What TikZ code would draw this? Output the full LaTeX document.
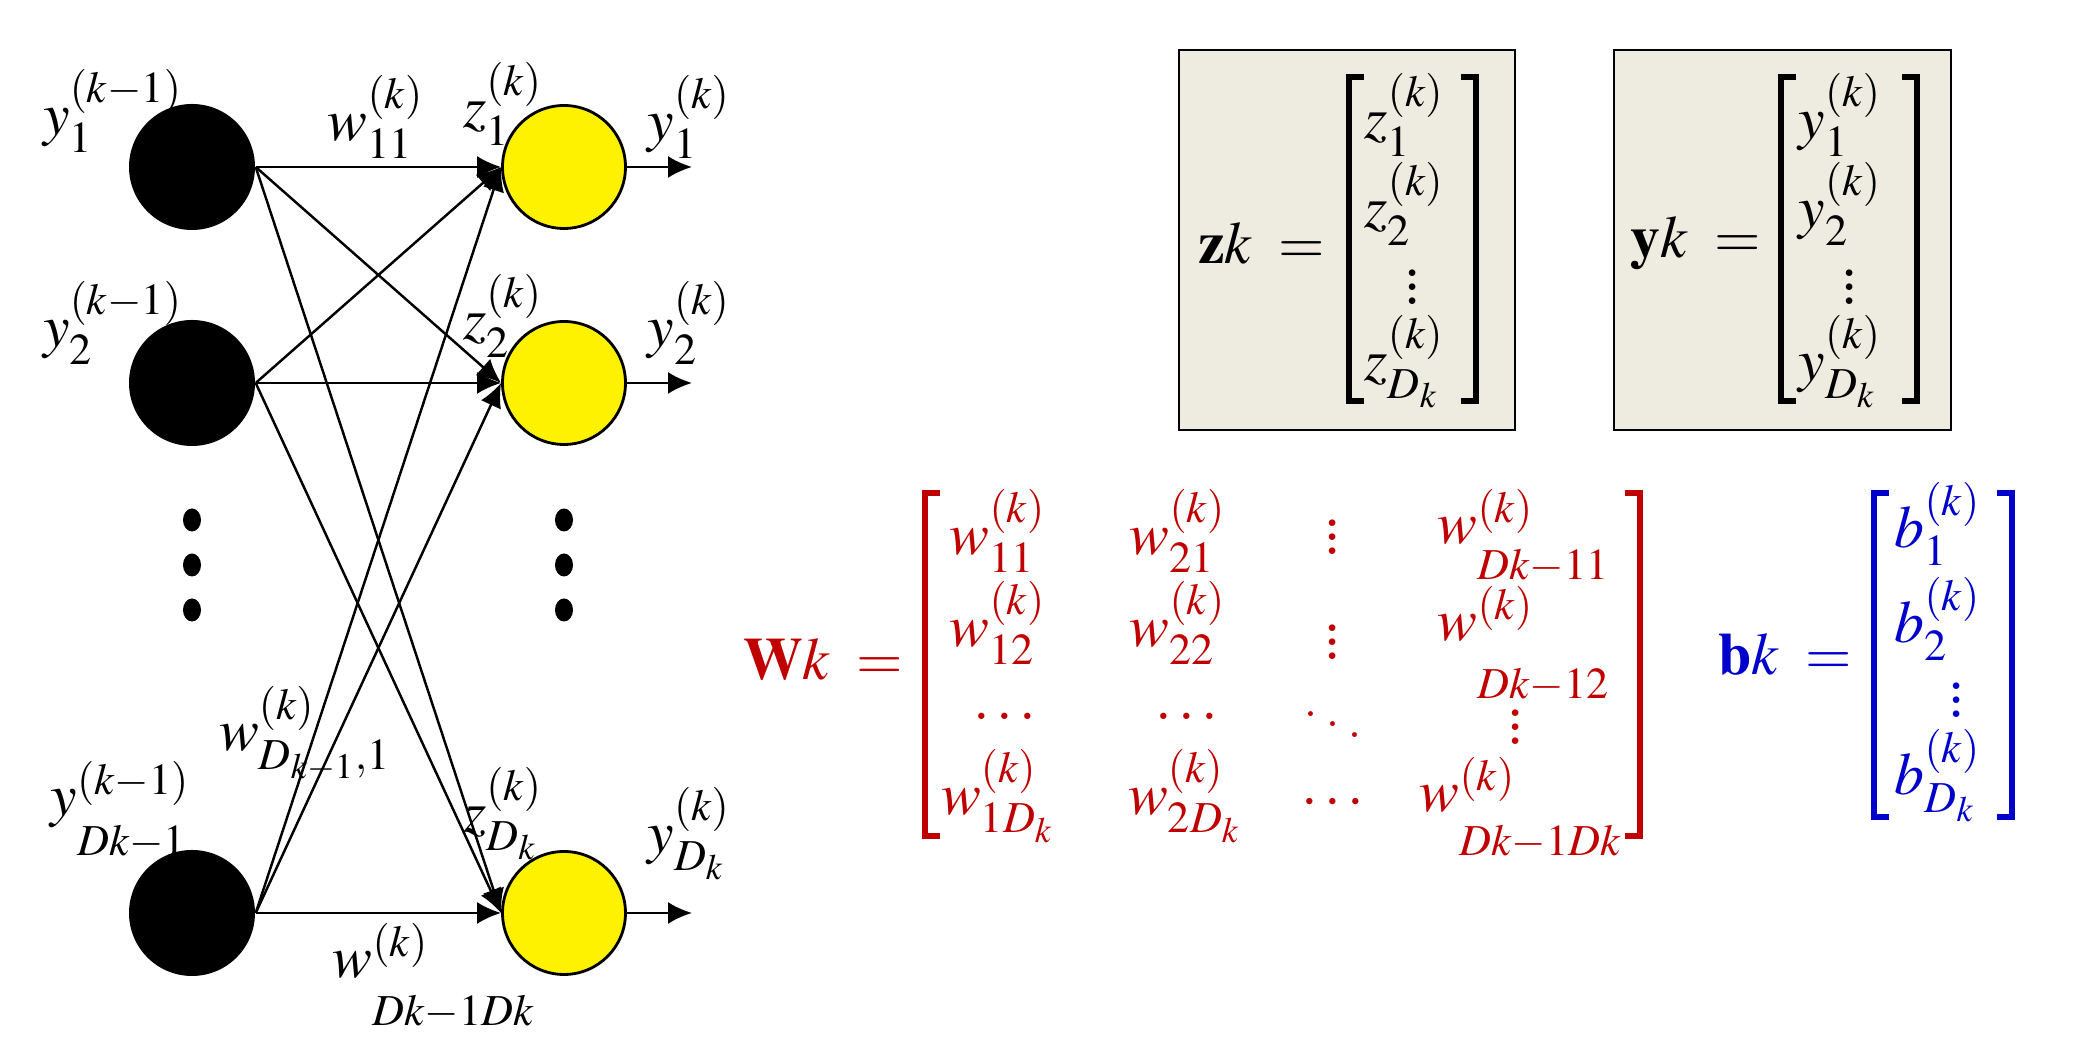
\documentclass[tikz,border=0pt]{standalone}
\usepackage{amsmath}
\usepackage{mathptmx}
\usetikzlibrary{arrows.meta}
\usetikzlibrary{positioning}

\definecolor{boxtan}{HTML}{EEECE1}
\definecolor{wred}{HTML}{C00000}
\definecolor{bblue}{HTML}{0000CC}

% w^(k) with its index set far below
\newcommand{\wfar}[2]{w^{(k)}_{\lower#1\hbox{$\scriptstyle #2$}}}

\tikzset{
  inunit/.style={circle, fill=black, minimum size=1.26cm, inner sep=0pt},
  outunit/.style={circle, draw=black, line width=0.8pt, fill=yellow, minimum size=1.23cm, inner sep=0pt},
  lbl/.style={inner sep=0pt},
  bigdots/.style={font=\fontsize{23}{27}\selectfont},
  brack/.style={line width=1.5pt},
  vecbox/.style={draw=black, line width=0.8pt, fill=boxtan}
}

\begin{document}
\begin{tikzpicture}[font=\fontsize{17}{21}\selectfont]
	\useasboundingbox (0,0) rectangle (20.80,10.57);

	% network units
	\node[inunit] (b1) at (1.92,8.90) {};
	\node[inunit] (b2) at (1.92,6.74) {};
	\node[inunit] (bD) at (1.92,1.44) {};
	\node[outunit] (o1) at (5.64,8.90) {};
	\node[outunit] (o2) at (5.64,6.74) {};
	\node[outunit] (oD) at (5.64,1.44) {};
	\coordinate (e1) at (6.92,8.90);
	\coordinate (e2) at (6.92,6.74);
	\coordinate (eD) at (6.92,1.44);

	\foreach \y in {5.37,4.92,4.47} {
		\fill (1.92,\y) ellipse [x radius=0.09, y radius=0.115];
		\fill (5.64,\y) ellipse [x radius=0.09, y radius=0.115];
	}

	\begin{scope}[>={Latex[length=2.4mm,width=2.2mm]},
	              every edge/.style={draw=black, line width=0.7pt, ->}]
		\path (b1.east) edge (o1.west);
		\path (b1.east) edge (o2.west);
		\path (b1.east) edge (oD.west);
		\path (b2.east) edge (o1.west);
		\path (b2.east) edge (o2.west);
		\path (b2.east) edge (oD.west);
		\path (bD.east) edge (o1.west);
		\path (bD.east) edge (o2.west);
		\path (bD.east) edge (oD.west);
		\path (o1.east) edge (e1);
		\path (o2.east) edge (e2);
		\path (oD.east) edge (eD);
	\end{scope}

	% labels of the network
	\node[lbl] (ly1) at (1.13,9.46) {$y_1^{(k-1)}$};
	\node[lbl] (ly2) at (1.13,7.34) {$y_2^{(k-1)}$};
	\node[lbl, anchor=base west] (lyD) at (0.50,2.41) {$y^{(k-1)}_{\lower0.25cm\hbox{$\scriptstyle Dk-1$}}$};
	\node[lbl] (lw11) at (3.76,9.40) {$w_{11}^{(k)}$};
	\node[lbl] (lz1) at (5.03,9.53) {$z_1^{(k)}$};
	\node[lbl] (lz2) at (5.03,7.41) {$z_2^{(k)}$};
	\node[lbl] (lzD) at (5.03,2.43) {$z_{D_k}^{(k)}$};
	\node[lbl] (lo1) at (6.89,9.40) {$y_1^{(k)}$};
	\node[lbl] (lo2) at (6.89,7.34) {$y_2^{(k)}$};
	\node[lbl] (loD) at (6.89,2.23) {$y_{D_k}^{(k)}$};
	\node[lbl] (lwD1) at (3.05,3.23) {$w^{(k)}_{D_{k-1},1}$};
	\node[lbl, anchor=base west] (lwDD) at (3.32,0.79) {$\wfar{0.33cm}{Dk-1Dk}$};

	% z and y vectors
	\draw[vecbox] (11.79,6.27) rectangle (15.15,10.07);
	\draw[vecbox] (16.14,6.27) rectangle (19.51,10.07);
	\draw[brack] (13.64,9.80) -- (13.49,9.80) -- (13.49,6.56) -- (13.64,6.56);
	\draw[brack] (14.61,9.80) -- (14.76,9.80) -- (14.76,6.56) -- (14.61,6.56);
	\draw[brack] (17.96,9.80) -- (17.81,9.80) -- (17.81,6.56) -- (17.96,6.56);
	\draw[brack] (19.02,9.80) -- (19.17,9.80) -- (19.17,6.56) -- (19.02,6.56);
	\node[lbl, anchor=east] (zk) at (13.26,8.14) {$\mathbf{z}k\;=$};
	\node[lbl, anchor=west] (z1) at (13.64,9.42) {$z_1^{(k)}$};
	\node[lbl, anchor=west] (z2) at (13.64,8.53) {$z_2^{(k)}$};
	\node[lbl, bigdots] (zv) at (14.13,7.80) {$\vdots$};
	\node[lbl, anchor=west] (zD) at (13.64,6.95) {$z_{D_k}^{(k)}$};
	\node[lbl, anchor=east] (yk) at (17.62,8.14) {$\mathbf{y}k\;=$};
	\node[lbl, anchor=west] (y1) at (17.98,9.42) {$y_1^{(k)}$};
	\node[lbl, anchor=west] (y2) at (17.98,8.53) {$y_2^{(k)}$};
	\node[lbl, bigdots] (yv) at (18.50,7.80) {$\vdots$};
	\node[lbl, anchor=west] (yD) at (17.98,6.95) {$y_{D_k}^{(k)}$};

	% weight matrix
	\begin{scope}[every node/.style={lbl, text=wred}]
		\node[anchor=east] (Wk) at (9.04,3.98) {$\mathbf{W}k\;=$};
		\node (w11) at (9.98,5.26) {$w_{11}^{(k)}$};
		\node (w21) at (11.78,5.26) {$w_{21}^{(k)}$};
		\node[bigdots] (w31) at (13.33,5.30) {$\vdots$};
		\node[anchor=base west] (w41) at (14.37,5.13) {$\wfar{0.21cm}{Dk-11}$};
		\node (w12) at (9.98,4.34) {$w_{12}^{(k)}$};
		\node (w22) at (11.78,4.34) {$w_{22}^{(k)}$};
		\node[bigdots] (w32) at (13.33,4.25) {$\vdots$};
		\node[anchor=base west] (w42) at (14.37,4.16) {$\wfar{0.43cm}{Dk-12}$};
		\node (w13) at (10.05,3.41) {$\ldots$};
		\node (w23) at (11.87,3.41) {$\ldots$};
		\node (w33) at (13.33,3.43) {$\ddots$};
		\node[bigdots] (w43) at (15.16,3.40) {$\vdots$};
		\node (w14) at (9.98,2.61) {$w_{1D_k}^{(k)}$};
		\node (w24) at (11.85,2.61) {$w_{2D_k}^{(k)}$};
		\node (w34) at (13.36,2.54) {$\cdots$};
		\node[anchor=base west] (w44) at (14.19,2.45) {$\wfar{0.29cm}{Dk-1Dk}$};
	\end{scope}
	\draw[brack, wred] (9.40,5.64) -- (9.25,5.64) -- (9.25,2.21) -- (9.40,2.21);
	\draw[brack, wred] (16.25,5.64) -- (16.40,5.64) -- (16.40,2.21) -- (16.25,2.21);

	% bias vector
	\begin{scope}[every node/.style={lbl, text=bblue}]
		\node[anchor=east] (bk) at (18.53,4.03) {$\mathbf{b}k\;=$};
		\node[anchor=west] (bb1) at (18.94,5.33) {$b_1^{(k)}$};
		\node[anchor=west] (bb2) at (18.94,4.38) {$b_2^{(k)}$};
		\node[bigdots] (bbv) at (19.57,3.67) {$\vdots$};
		\node[anchor=west] (bbD) at (18.94,2.81) {$b_{D_k}^{(k)}$};
	\end{scope}
	\draw[brack, bblue] (18.89,5.64) -- (18.74,5.64) -- (18.74,2.40) -- (18.89,2.40);
	\draw[brack, bblue] (19.97,5.64) -- (20.12,5.64) -- (20.12,2.40) -- (19.97,2.40);
\end{tikzpicture}
\end{document}
